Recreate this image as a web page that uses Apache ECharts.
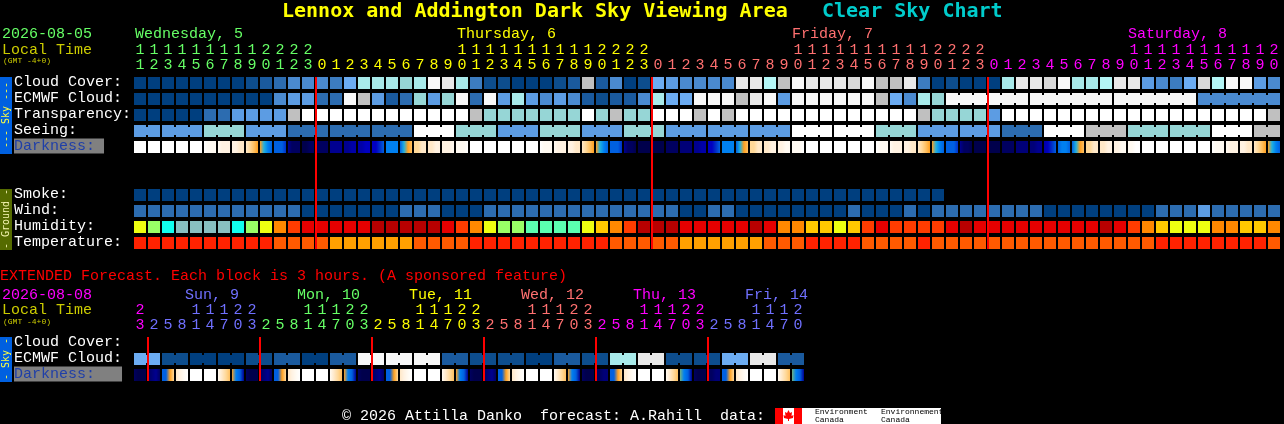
<!DOCTYPE html>
<html><head><meta charset="utf-8">
<style>html,body{margin:0;padding:0;background:#000;overflow:hidden}#c{width:1284px;height:424px}</style>
<script src="https://cdn.jsdelivr.net/npm/echarts@6/dist/echarts.min.js"></script>
</head><body><div id="c"></div>
<script>
// ---------- values ----------
const hours = [11,12,13,14,15,16,17,18,19,20,21,22,23,0,1,2,3,4,5,6,7,8,9,10,11,12,13,14,15,16,17,18,19,20,21,22,23,0,1,2,3,4,5,6,7,8,9,10,11,12,13,14,15,16,17,18,19,20,21,22,23,0,1,2,3,4,5,6,7,8,9,10,11,12,13,14,15,16,17,18,19,20];
const extHours = [23,2,5,8,11,14,17,20,23,2,5,8,11,14,17,20,23,2,5,8,11,14,17,20,23,2,5,8,11,14,17,20,23,2,5,8,11,14,17,20,23,2,5,8,11,14,17,20];
const rowNames = ['Cloud Cover:','ECMWF Cloud:','Transparency:','Seeing:','Darkness:',' ','  ','Smoke:','Wind:','Humidity:','Temperature:'];
const extRowNames = ['Cloud Cover:','ECMWF Cloud:','Darkness:'];
const midnights = [13,37,61];
const extMidnights = [1,9,17,25,33,41];
const dayStarts = [0,13,37,61];
const extDayStarts = [0,1,9,17,25,33,41];

const skyColors = ['#003f7f','#0d4d8d','#1a5a9e','#2c6cb0','#3c7cc0','#4a8ad0','#5c9ce3','#6cacf2','#96d6d6','#a8eaea','#b4f6f6','#c0c0c0','#d8d8d8','#e8e8e8','#f8f8f8','#ffffff'];
const humidityColors = ['#eeff11','#99ff66','#11ffee','#88c0c0','#ff8800','#ff3c00','#e60000','#b80000','#5bffb0','#ffc800'];
const temperatureColors = ['#ff2200','#ff5a00','#ffa000'];
const darkColors = ['#00004c','#000060','#000078','#000090','#0000a8','#0000c0','#0030c8','#0060e0','#0080f0','#20b0e0','#70b080','#ffa020','#ffc060','#ffd898','#ffe8c8','#fff2e2','#fffaf2','#ffffff'];

const cloud = [0,0,0,0,0,0,0,0,1,2,3,5,5,5,4,7,9,9,9,8,9,14,13,9,4,1,1,0,0,0,1,2,11,2,5,0,1,7,6,5,5,5,5,13,13,10,11,14,13,13,13,12,14,11,11,13,4,0,1,0,0,0,9,13,13,12,14,9,9,10,13,13,6,5,4,7,12,10,14,14,6,5];
const ecmwf = [0,0,0,0,0,0,0,0,0,0,5,6,6,3,3,14,11,6,2,3,8,6,8,14,3,14,6,9,6,5,6,5,2,1,2,2,5,9,7,7,14,14,14,11,13,14,6,14,14,14,14,14,14,11,7,5,9,8,14,14,14,14,14,14,14,14,14,14,14,14,14,14,14,14,14,14,5,5,5,5,5,5];
const ecmwfBlockStarts = [58,64,70,76];
const transparency = [0,0,0,0,0,3,3,6,6,6,6,11,15,15,15,15,15,15,15,15,15,15,15,15,11,8,8,8,8,8,8,8,15,8,11,8,8,15,15,15,11,15,11,15,15,15,15,15,15,15,15,15,15,15,15,15,11,8,8,8,8,6,15,15,15,15,15,15,15,15,15,15,15,15,15,15,15,15,15,15,15,11];
const seeing = [6,6,6,6,6,8,8,8,6,6,6,3,3,3,3,3,3,3,3,3,15,15,15,8,8,8,6,6,6,8,8,8,6,6,6,8,8,8,6,6,6,6,6,6,6,6,6,15,15,15,15,15,15,8,8,8,6,6,6,6,6,6,3,3,3,15,15,15,11,11,11,8,8,8,8,8,8,15,15,15,11,11];
const seeingBlockStarts = [0,2,5,8,11,14,17,20,23,26,29,32,35,38,41,44,47,50,53,56,59,62,65,68,71,74,77,80];
const darkness = [[17,17,17,17],[17,17,17,17],[17,17,17,17],[17,17,17,17],[17,17,17,17],[17,16,16,16],[16,15,15,15],[15,15,14,14],[14,13,12,11],[11,9,8,7],[7,7,7,6],[3,1,1,1],[0,0,1,1],[1,1,1,1],[3,3,3,3],[3,3,4,4],[4,4,5,5],[5,5,6,7],[8,8,8,8],[7,9,11,12],[13,13,14,14],[14,14,15,15],[15,15,15,16],[16,16,16,17],[17,17,17,17],[17,17,17,17],[17,17,17,17],[17,17,17,17],[17,17,17,17],[17,16,16,16],[16,15,15,15],[15,15,14,14],[14,13,12,11],[11,9,8,7],[7,7,7,6],[3,1,1,0],[0,0,0,0],[0,0,0,0],[1,1,1,1],[2,2,2,2],[3,3,4,4],[5,5,6,7],[8,8,8,8],[7,9,11,12],[13,13,14,14],[14,14,15,15],[15,15,16,16],[16,16,16,17],[17,17,17,17],[17,17,17,17],[17,17,17,17],[17,17,17,17],[17,17,17,17],[17,16,16,16],[16,15,15,15],[15,15,14,14],[14,13,12,11],[11,9,8,7],[7,7,7,6],[3,1,1,0],[0,0,0,0],[0,0,0,0],[1,1,1,1],[2,2,2,2],[2,2,3,3],[4,5,6,7],[7,8,8,7],[7,9,11,12],[13,13,14,14],[14,14,15,15],[15,15,16,16],[16,16,17,17],[17,17,17,17],[17,17,17,17],[17,17,17,17],[17,17,17,17],[17,17,17,17],[17,16,16,16],[16,15,15,15],[15,15,14,14],[14,13,12,11],[11,9,8,7]];
const smoke = [0,0,0,0,0,0,0,0,0,0,0,0,0,0,0,0,0,0,0,0,0,0,0,0,0,0,0,0,0,0,0,0,0,0,0,0,0,0,0,0,0,0,0,0,0,0,0,0,0,0,0,0,0,0,0,0,0,0];
const wind = [3,3,3,3,3,3,3,3,3,3,3,3,0,0,0,0,0,0,0,3,3,3,0,0,0,3,3,3,3,3,3,3,3,3,3,3,3,3,3,0,0,3,3,0,0,0,0,0,0,0,0,3,0,0,0,3,0,3,3,3,3,3,3,3,3,0,0,0,0,0,0,0,0,3,3,3,6,3,3,3,3,3];
const humidity = [0,1,2,3,3,3,3,2,1,0,4,5,6,6,6,6,6,7,7,7,7,7,6,5,4,0,1,1,8,8,8,8,0,9,4,5,7,7,7,6,6,6,6,6,7,6,4,4,9,9,0,9,5,6,5,5,5,5,6,7,6,6,6,6,6,6,6,6,6,7,6,5,4,9,0,0,0,4,4,9,9,4];
const temperature = [0,0,0,0,0,0,0,0,0,0,1,1,1,1,2,2,2,2,2,2,1,1,1,1,0,0,0,0,0,0,0,0,0,0,1,1,1,1,1,2,2,2,2,2,2,1,1,1,0,0,0,0,1,1,1,1,0,1,1,1,1,1,1,1,1,1,1,1,1,1,1,1,1,0,0,0,0,0,0,0,0,1];
const extEcmwfBlocks = [7,1,0,0,1,2,0,2,14,14,14,2,1,1,0,2,1,9,13,1,1,7,13,2];
const extDarkness = [[1,0,0,0],[1,2,3,1],[7,7,11,13],[14,15,16,17],[17,17,17,17],[17,17,17,17],[16,14,13,12],[11,8,7,3],[1,0,0,0],[1,2,3,1],[7,7,11,13],[14,15,16,17],[17,17,17,17],[17,17,17,17],[16,14,13,12],[11,8,7,3],[1,0,0,0],[1,2,3,1],[7,7,11,13],[14,15,16,17],[17,17,17,17],[17,17,17,17],[16,14,13,12],[11,8,7,3],[1,0,0,0],[1,2,3,1],[7,7,11,13],[14,15,16,17],[17,17,17,17],[17,17,17,17],[16,14,13,12],[11,8,7,3],[1,0,0,0],[1,1,2,2],[7,7,11,13],[14,15,16,17],[17,17,17,17],[17,17,17,17],[16,14,13,12],[10,8,7,3],[1,0,0,0],[1,1,2,2],[7,7,11,13],[14,15,16,17],[17,17,17,17],[17,17,17,17],[16,14,13,12],[10,8,7,3]];

const dayColors = ['#66ff66','#ffff00','#ff7070','#ff00ff'];
const extDayColors = ['#ff00ff','#7070ff','#66ff66','#ffff00','#ff7070','#ff00ff','#7070ff'];
const dayLabels = ['Wednesday, 5','Thursday, 6','Friday, 7','Saturday, 8'];
const extDayLabels = ['Sun, 9','Mon, 10','Tue, 11','Wed, 12','Thu, 13','Fri, 14'];

// ---------- helpers ----------
const MONO = '"Liberation Mono", "DejaVu Sans Mono", monospace';
const BOLD = '"DejaVu Sans Mono", "Liberation Mono", monospace';
const CELL = 12, CONN = 8;
function colorAt(starts, colors, i){ let k = 0; starts.forEach((s,j)=>{ if(i>=s) k=j; }); return colors[k]; }
function hourText(v){ v = +v; return (v>=10 ? Math.floor(v/10) : ' ') + '\n' + (v%10); }
function cellSeries(grid, name, rowIdx, values, palette, starts){
  const joined = starts ? values.map((_,i)=> i<values.length-1 && i>=starts[0] && !starts.includes(i+1) ? 1 : 0) : values.map(()=>0);
  return { type:'custom', name, xAxisIndex:grid, yAxisIndex:grid, silent:true, z:2,
    data: values.map((v,i)=>[i,rowIdx,v,joined[i]]),
    encode:{x:0,y:1},
    renderItem(params, api){
      const p = api.coord([api.value(0),api.value(1)]), band = api.size([1,1]);
      const fill = palette[api.value(2)];
      const ch = [{type:'rect',shape:{x:p[0]-CELL/2,y:p[1]-CELL/2,width:CELL,height:CELL},style:{fill}}];
      if(api.value(3)) ch.push({type:'rect',shape:{x:p[0]+CELL/2,y:p[1]-CONN/2,width:band[0]-CELL,height:CONN},style:{fill}});
      return {type:'group',children:ch};
    }};
}
function blockSeries(grid, name, rowIdx, blocks, palette){
  return { type:'custom', name, xAxisIndex:grid, yAxisIndex:grid, silent:true, z:2,
    data: blocks.map((v,i)=>[2*i,rowIdx,v]),
    encode:{x:0,y:1},
    renderItem(params, api){
      const p = api.coord([api.value(0),api.value(1)]), band = api.size([1,1]);
      const fill = palette[api.value(2)];
      return {type:'group',children:[
        {type:'rect',shape:{x:p[0]-CELL/2,y:p[1]-CELL/2,width:CELL,height:CELL},style:{fill}},
        {type:'rect',shape:{x:p[0]+CELL/2,y:p[1]-CONN/2,width:band[0]-CELL,height:CONN},style:{fill}},
        {type:'rect',shape:{x:p[0]+band[0]-CELL/2,y:p[1]-CELL/2,width:CELL,height:CELL},style:{fill}}
      ]};
    }};
}
function darkSeries(grid, rowIdx, cells){
  return { type:'custom', name:'Darkness', xAxisIndex:grid, yAxisIndex:grid, silent:true, z:2,
    data: cells.map((c,i)=>[i,rowIdx,c[0],c[1],c[2],c[3]]),
    encode:{x:0,y:1},
    renderItem(params, api){
      const p = api.coord([api.value(0),api.value(1)]);
      const stops = [2,3,4,5].map((d,k)=>({offset:k/3,color:darkColors[api.value(d)]}));
      return {type:'rect',shape:{x:p[0]-CELL/2,y:p[1]-CELL/2,width:CELL,height:CELL},
        style:{fill:new echarts.graphic.LinearGradient(0,0,1,0,stops)}};
    }};
}
function midnightSeries(grid, cols, firstRow, lastRow){
  return { type:'custom', name:'Midnight', xAxisIndex:grid, yAxisIndex:grid, silent:true, z:5,
    data: cols.map(c=>[c,firstRow,lastRow]),
    encode:{x:0,y:1},
    renderItem(params, api){
      const top = api.coord([api.value(0),api.value(1)]), bot = api.coord([api.value(0),api.value(2)]);
      const band = api.size([1,1]);
      return {type:'rect',shape:{x:top[0]-band[0]/2,y:top[1]-CELL/2,width:2,height:bot[1]-top[1]+CELL},style:{fill:'#ff0000'}};
    }};
}
function xAxis(grid, cats, starts, colors){
  return {type:'category',gridIndex:grid,position:'top',data:cats.map((h,i)=>h+'_'+i),boundaryGap:true,
    axisLine:{show:false},axisTick:{show:false},splitLine:{show:false},
    axisLabel:{show:true,interval:0,margin:2,hideOverlap:false,fontFamily:MONO,fontSize:15,lineHeight:15,
      formatter:(v)=>hourText(v.split('_')[0]),
      color:(v,i)=>colorAt(starts,colors,+v.split('_')[1])}};
}
function yAxis(grid, names, darkPad){
  return {type:'category',gridIndex:grid,inverse:true,data:names,
    axisLine:{show:false},axisTick:{show:false},splitLine:{show:false},
    axisLabel:{show:true,interval:0,align:'left',margin:119,padding:[0,0,2,0],fontFamily:MONO,fontSize:15,color:'#ffffff',
      formatter:(v)=> v==='Darkness:' ? '{d|'+v+'}' : v,
      rich:{d:{color:'#1f3fa8',backgroundColor:'#808080',fontFamily:MONO,fontSize:15,height:15,padding:[0,darkPad,0,0]}}}};
}
function txt(x,y,text,fill,size,extra){
  return Object.assign({type:'text',x,y,silent:true,z:10,style:Object.assign({text,fill,font:size+'px '+MONO,textAlign:'left',textVerticalAlign:'middle'})},extra||{});
}
function rect(x,y,w,h,fill){ return {type:'rect',shape:{x,y,width:w,height:h},style:{fill},silent:true,z:9}; }
function vtxt(x,y,text,fill){
  return {type:'text',x,y,rotation:Math.PI/2,silent:true,z:10,style:{text,fill,font:'10px '+BOLD,textAlign:'center',textVerticalAlign:'middle'}};
}

const dayX = [135,457,792,1128];
const extDayX = [185,297,409,521,633,745];
const graphics = [
  {type:'text',x:282,y:12,silent:true,z:10,style:{text:'Lennox and Addington Dark Sky Viewing Area',fill:'#ffff00',font:'bold 20px '+BOLD,textVerticalAlign:'middle'}},
  {type:'text',x:822,y:12,silent:true,z:10,style:{text:'Clear Sky Chart',fill:'#00cccc',font:'bold 20px '+BOLD,textVerticalAlign:'middle'}},
  txt(2,34,'2026-08-05','#66ff66',15), txt(2,50,'Local Time','#cccc00',15), txt(3,61,'(GMT -4+0)','#cccc00',8),
  txt(0,276,'EXTENDED Forecast. Each block is 3 hours. (A sponsored feature)','#ff0000',15),
  txt(2,295,'2026-08-08','#ff00ff',15), txt(2,310,'Local Time','#cccc00',15), txt(3,322,'(GMT -4+0)','#cccc00',8),
  rect(0,77,12,77,'#0060e0'), vtxt(6,115,'--- Sky ---','#ffff40'),
  rect(0,189,12,61,'#556b00'), vtxt(6,219,'- Ground -','#f4f4b0'),
  rect(0,337,12,45,'#0060e0'), vtxt(6,359,'- Sky -','#ffff40'),
  txt(342,416,'\u00a9 2026 Attilla Danko  forecast: A.Rahill  data:','#ffffff',15),
  rect(775,408,166,16,'#ffffff'), rect(775,408,8,16,'#ff0000'), rect(794,408,8,16,'#ff0000'),
  {type:'polygon',shape:{points:[[788.5,410],[790,413],[792,412],[791.5,416],[793.5,415],[793,418],[789,419],[789,421],[788,421],[788,419],[784,418],[783.5,415],[785.5,416],[785,412],[787,413]]},style:{fill:'#ff0000'},silent:true,z:10},
  {type:'text',x:815,y:412,silent:true,z:10,style:{text:'Environment',fill:'#000',font:'8px '+MONO,textVerticalAlign:'middle'}},
  {type:'text',x:815,y:420,silent:true,z:10,style:{text:'Canada',fill:'#000',font:'8px '+MONO,textVerticalAlign:'middle'}},
  {type:'text',x:881,y:412,silent:true,z:10,style:{text:'Environnement',fill:'#000',font:'8px '+MONO,textVerticalAlign:'middle'}},
  {type:'text',x:881,y:420,silent:true,z:10,style:{text:'Canada',fill:'#000',font:'8px '+MONO,textVerticalAlign:'middle'}}
];
dayLabels.forEach((t,i)=>graphics.push(txt(dayX[i],34,t,dayColors[i],15)));
extDayLabels.forEach((t,i)=>graphics.push(txt(extDayX[i],295,t,extDayColors[i+1],15)));

const chart = echarts.init(document.getElementById('c'),null,{renderer:'canvas',width:1284,height:424});
chart.setOption({
  backgroundColor:'#000000', animation:false, tooltip:{show:false},
  grid:[
    {left:133,top:75,width:14*hours.length,height:16*rowNames.length,containLabel:false},
    {left:133,top:335,width:14*extHours.length,height:16*extRowNames.length,containLabel:false}
  ],
  xAxis:[xAxis(0,hours,dayStarts,dayColors),xAxis(1,extHours,extDayStarts,extDayColors)],
  yAxis:[yAxis(0,rowNames,9),yAxis(1,extRowNames,27)],
  graphic:{elements:graphics},
  series:[
    cellSeries(0,'Cloud Cover',0,cloud,skyColors),
    cellSeries(0,'ECMWF Cloud',1,ecmwf,skyColors,ecmwfBlockStarts),
    cellSeries(0,'Transparency',2,transparency,skyColors),
    cellSeries(0,'Seeing',3,seeing,skyColors,seeingBlockStarts),
    darkSeries(0,4,darkness),
    cellSeries(0,'Smoke',7,smoke,skyColors),
    cellSeries(0,'Wind',8,wind,skyColors),
    cellSeries(0,'Humidity',9,humidity,humidityColors),
    cellSeries(0,'Temperature',10,temperature,temperatureColors),
    midnightSeries(0,midnights,0,10),
    blockSeries(1,'ECMWF Cloud (extended)',1,extEcmwfBlocks,skyColors),
    darkSeries(1,2,extDarkness),
    midnightSeries(1,extMidnights,0,2)
  ]
});
</script></body></html>
